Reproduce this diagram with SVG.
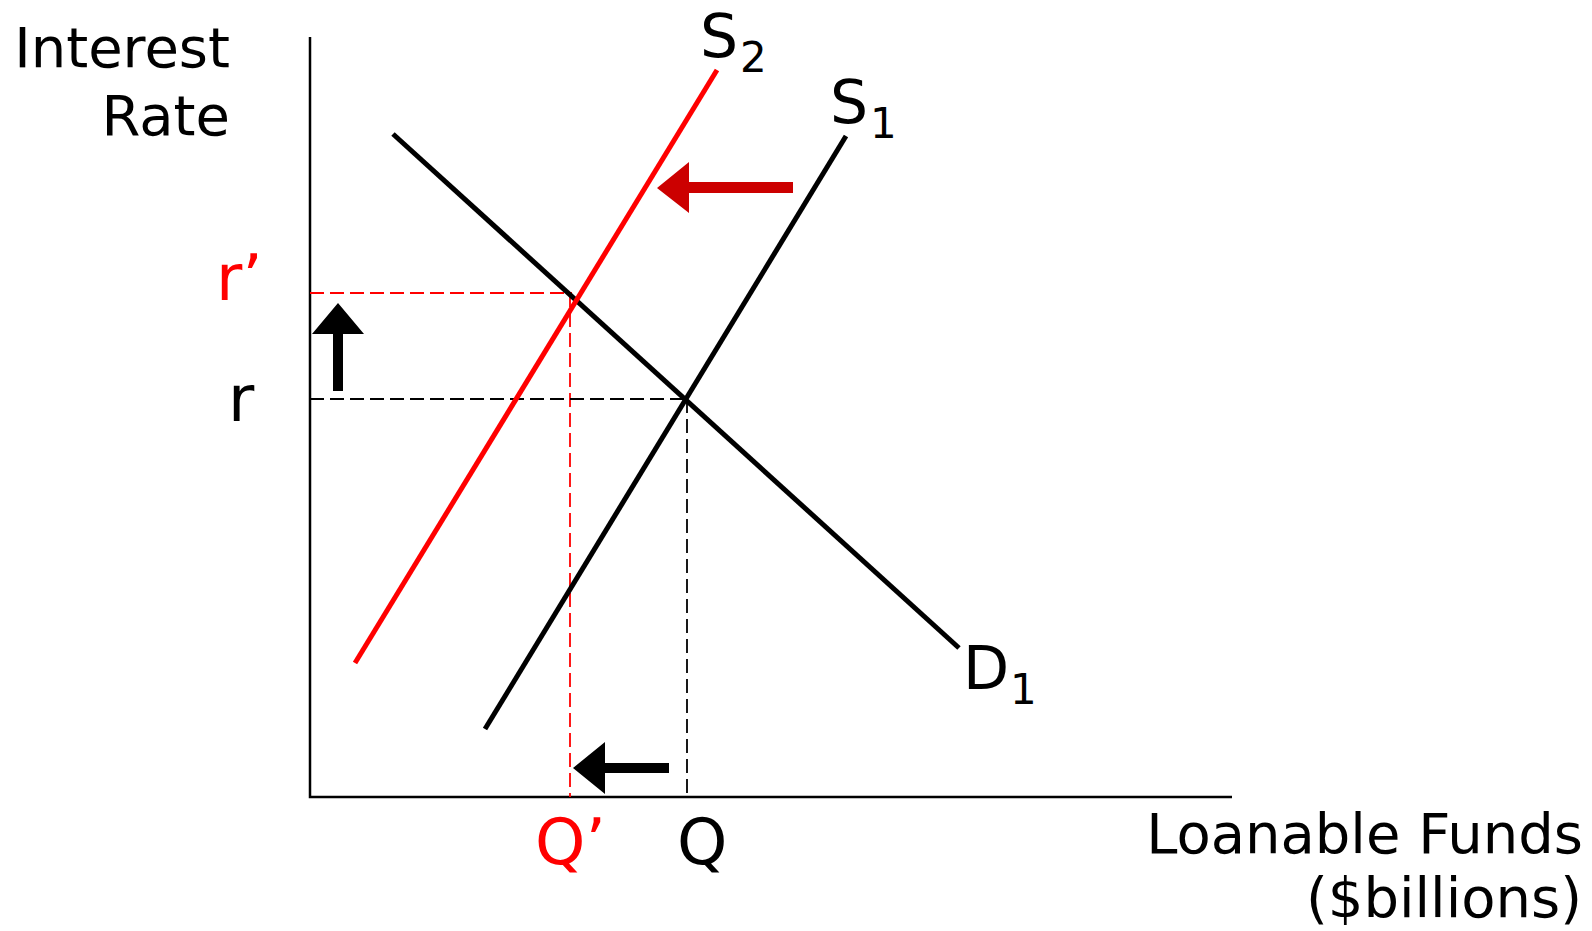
<svg xmlns="http://www.w3.org/2000/svg" width="1592" height="931" viewBox="0 0 1592 931">
<style>
text{font-family:"DejaVu Sans","Liberation Sans",sans-serif;fill:#000}
.red{fill:#FF0000}
.axis{stroke:#000;stroke-width:2.5;fill:none}
.curve{stroke:#000;stroke-width:5;fill:none}
.curveR{stroke:#FF0000;stroke-width:5;fill:none}
.dash{stroke:#000;stroke-width:1.8;stroke-dasharray:14,6;fill:none}
.dashR{stroke:#FF0000;stroke-width:1.8;stroke-dasharray:14,6;fill:none}
</style>
<rect width="1592" height="931" fill="#fff"/>
<g id="axes">
<polyline class="axis" points="310,37 310,797 1232,797"/>
</g>
<g id="guides">
<line class="dashR" x1="310" y1="293" x2="572" y2="293"/>
<line class="dashR" x1="570" y1="293" x2="570" y2="797"/>
<line class="dash" x1="310" y1="399" x2="687" y2="399"/>
<line class="dash" x1="687" y1="399" x2="687" y2="797"/>
</g>
<g id="connectors">
<line id="D1" class="curve" x1="393" y1="134" x2="959" y2="648"/>
<line id="S1" class="curve" x1="846" y1="136" x2="485" y2="729"/>
<line id="S2" class="curveR" x1="717" y1="70" x2="355" y2="663"/>
<polygon id="arrow-up" points="338,303 364,334 343,334 343,391 333,391 333,334 312,334" fill="#000"/>
<polygon id="arrow-left" points="573,768 605,742 605,763 669,763 669,773 605,773 605,794" fill="#000"/>
<polygon id="arrow-red" points="657,188 689,162 689,182 793,182 793,193 689,193 689,213" fill="#CC0000"/>
</g>
<g id="labels">
<text x="230" y="67" font-size="56" text-anchor="end">Interest</text>
<text x="230" y="135" font-size="56" text-anchor="end">Rate</text>
<text class="red" x="216" y="300" font-size="64">r’</text>
<text x="228" y="421" font-size="64">r</text>
<text class="red" x="535" y="864" font-size="64">Q’</text>
<text x="677" y="864" font-size="64">Q</text>
<text x="700" y="57" font-size="60">S</text>
<text x="740" y="72" font-size="42">2</text>
<text x="830" y="123" font-size="60">S</text>
<text x="870" y="138" font-size="42">1</text>
<text x="963" y="689" font-size="60">D</text>
<text x="1010" y="704" font-size="42">1</text>
<text x="1583" y="853" font-size="56" text-anchor="end">Loanable Funds</text>
<text x="1582" y="917" font-size="56" text-anchor="end">($billions)</text>
</g>
</svg>
